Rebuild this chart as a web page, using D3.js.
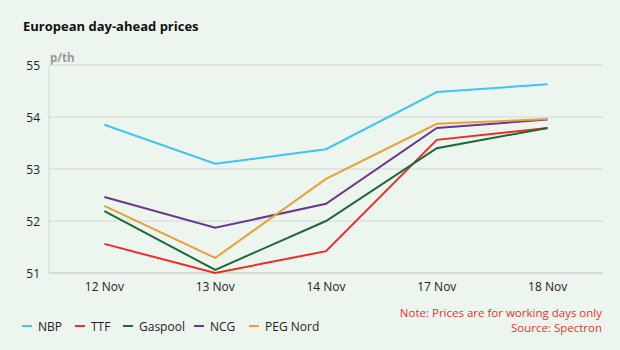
<!DOCTYPE html>
<html>
<head>
<meta charset="utf-8">
<script src="https://cdn.jsdelivr.net/npm/d3@7"></script>
<style>
  body { margin: 0; background: #edf5ef; }
  svg { display: block; font-family: "Segoe UI", "Open Sans", "DejaVu Sans", sans-serif; }
</style>
</head>
<body>
<div id="chart"></div>
<script>
// data
const days = ["12 Nov", "13 Nov", "14 Nov", "17 Nov", "18 Nov"];
const nbp = [53.85, 53.10, 53.38, 54.48, 54.63];
const ttf = [51.56, 51.00, 51.42, 53.56, 53.79];
const gaspool = [52.19, 51.06, 52.00, 53.40, 53.79];
const ncg = [52.46, 51.87, 52.33, 53.79, 53.95];
const pegNord = [52.29, 51.29, 52.81, 53.87, 53.96];
const yTicks = [51, 52, 53, 54, 55];

const series = [
  { name: "NBP", values: nbp, color: "#40c4f0" },
  { name: "TTF", values: ttf, color: "#ee2b24" },
  { name: "Gaspool", values: gaspool, color: "#196a36" },
  { name: "NCG", values: ncg, color: "#6a3691" },
  { name: "PEG Nord", values: pegNord, color: "#e9a034" }
];

const width = 620, height = 350;
const margin = { top: 65, right: 17, bottom: 77, left: 49 };

const svg = d3.select("#chart").append("svg")
  .attr("width", width)
  .attr("height", height);

svg.append("rect").attr("width", width).attr("height", height).attr("fill", "#edf5ef");

const x = d3.scalePoint()
  .domain(days)
  .range([margin.left, width - margin.right])
  .padding(0.5);

const y = d3.scaleLinear()
  .domain([51, 55])
  .range([height - margin.bottom, margin.top]);

// title
svg.append("text")
  .attr("x", 23).attr("y", 31)
  .attr("font-size", 13).attr("font-weight", "bold").attr("fill", "#111")
  .text("European day-ahead prices");

svg.append("text")
  .attr("x", 50).attr("y", 62)
  .attr("font-size", 11.5).attr("font-weight", "bold").attr("fill", "#999")
  .text("p/th");

// gridlines
svg.append("g")
  .selectAll("line")
  .data(yTicks.slice(1))
  .join("line")
  .attr("x1", margin.left).attr("x2", width - margin.right)
  .attr("y1", d => y(d)).attr("y2", d => y(d))
  .attr("stroke", "#d3d8d4").attr("stroke-width", 1);

// left axis line + bottom line
svg.append("line")
  .attr("x1", margin.left).attr("x2", margin.left)
  .attr("y1", y(55)).attr("y2", y(51))
  .attr("stroke", "#d3d8d4");
svg.append("line")
  .attr("x1", margin.left).attr("x2", width - margin.right)
  .attr("y1", y(51)).attr("y2", y(51))
  .attr("stroke", "#bcc0bd");

// y labels
svg.append("g")
  .selectAll("text")
  .data(yTicks)
  .join("text")
  .attr("x", 40).attr("y", d => y(d) + 5)
  .attr("text-anchor", "end")
  .attr("font-size", 12).attr("fill", "#222")
  .text(d => d);

// x labels
svg.append("g")
  .selectAll("text")
  .data(days)
  .join("text")
  .attr("x", d => x(d)).attr("y", 291)
  .attr("text-anchor", "middle")
  .attr("font-size", 12).attr("fill", "#222")
  .text(d => d);

// lines
const line = d3.line()
  .x((d, i) => x(days[i]))
  .y(d => y(d));

svg.append("g")
  .selectAll("path")
  .data(series)
  .join("path")
  .attr("d", d => line(d.values))
  .attr("fill", "none")
  .attr("stroke", d => d.color)
  .attr("stroke-width", 2);

// legend
const legendX = [22, 75, 123, 194, 249];
const legend = svg.append("g")
  .selectAll("g")
  .data(series)
  .join("g")
  .attr("transform", (d, i) => `translate(${legendX[i]}, 326)`);

legend.append("line")
  .attr("x1", 0).attr("x2", 10)
  .attr("y1", 0).attr("y2", 0)
  .attr("stroke", d => d.color)
  .attr("stroke-width", 2);

legend.append("text")
  .attr("x", 16).attr("y", 4.5)
  .attr("font-size", 12).attr("fill", "#222")
  .text(d => d.name);

// note
svg.append("text")
  .attr("x", 602).attr("y", 317)
  .attr("text-anchor", "end")
  .attr("font-size", 11.5).attr("fill", "#e8332b")
  .text("Note: Prices are for working days only");
svg.append("text")
  .attr("x", 602).attr("y", 332)
  .attr("text-anchor", "end")
  .attr("font-size", 11.5).attr("fill", "#e8332b")
  .text("Source: Spectron");
</script>
</body>
</html>
